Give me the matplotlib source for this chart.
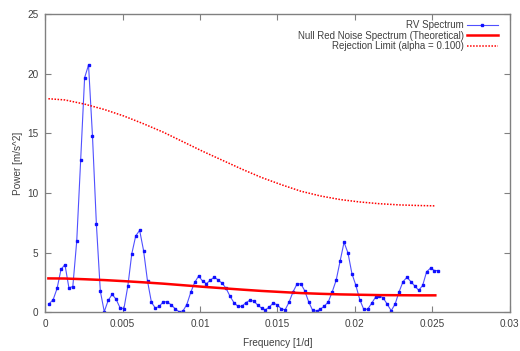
import numpy as np
import matplotlib
matplotlib.use("Agg")
import matplotlib.pyplot as plt

# RV spectrum: one value per frequency bin k = 1..100
df = 0.000254
rv_power = [
    0.72, 1.06, 2.0, 3.6, 4.0, 2.06, 2.15, 5.98, 12.77, 19.66,
    20.73, 14.8, 7.37, 1.78, 0.05, 1.0, 1.5, 1.1, 0.39, 0.3,
    2.2, 4.9, 6.4, 6.87, 5.17, 2.62, 0.84, 0.35, 0.5, 0.88,
    0.88, 0.63, 0.31, 0.05, 0.1, 0.65, 1.67, 2.5, 3.04, 2.62,
    2.4, 2.7, 2.95, 2.7, 2.43, 2.0, 1.34, 0.8, 0.5, 0.5,
    0.8, 1.0, 0.95, 0.62, 0.35, 0.2, 0.45, 0.78, 0.62, 0.3,
    0.2, 0.84, 1.7, 2.35, 2.4, 1.8, 0.88, 0.16, 0.1, 0.27,
    0.52, 0.88, 1.72, 2.7, 4.3, 5.87, 4.97, 3.24, 2.26, 1.06,
    0.25, 0.25, 0.75, 1.26, 1.4, 1.18, 0.67, 0.13, 0.7, 1.72,
    2.57, 2.93, 2.57, 2.2, 1.84, 2.26, 3.4, 3.7, 3.5, 3.5,
]
rv_freq = df * np.arange(1, len(rv_power) + 1)

# theoretical curves, sampled along the frequency axis
curve_freq = [0.0002, 0.00127, 0.00254, 0.00381, 0.00508, 0.00635, 0.00762,
              0.00889, 0.01016, 0.01143, 0.0127, 0.01397, 0.01524, 0.01651,
              0.01778, 0.01905, 0.0203, 0.0216, 0.0229, 0.0241, 0.0252]
null_power = [2.84, 2.83, 2.77, 2.70, 2.61, 2.51, 2.40, 2.27, 2.14, 2.02,
              1.90, 1.79, 1.70, 1.61, 1.55, 1.50, 1.47, 1.44, 1.43, 1.42, 1.42]
reject_power = [17.9, 17.8, 17.45, 17.0, 16.45, 15.8, 15.1, 14.3, 13.5, 12.75,
                12.0, 11.3, 10.7, 10.15, 9.75, 9.45, 9.25, 9.1, 9.0, 8.95, 8.92]

x_ticks = [0, 0.005, 0.01, 0.015, 0.02, 0.025, 0.03]
x_tick_labels = ["0", "0.005", "0.01", "0.015", "0.02", "0.025", "0.03"]
y_ticks = [0, 5, 10, 15, 20, 25]

plt.rcParams["font.family"] = ["Liberation Sans", "DejaVu Sans"]
text_color = "#404040"
frame_color = "#808080"

fig = plt.figure(figsize=(5.2, 3.51), dpi=100)
ax = fig.add_axes([0.0871, 0.1103, 0.8929, 0.8497])

ax.plot(rv_freq, rv_power, color="#5050ff", lw=0.8, marker="s", ms=1.5,
        mfc="#1010ff", mec="#1010ff", label="RV Spectrum")
ax.plot(curve_freq, null_power, color="#ff0000", lw=1.8,
        label="Null Red Noise Spectrum (Theoretical)")
ax.plot(curve_freq, reject_power, color="#ff0000", lw=1.1, ls=(0, (1, 1)),
        label="Rejection Limit (alpha = 0.100)")

ax.set_xlim(0, 0.03)
ax.set_ylim(0, 25)
ax.set_xticks(x_ticks)
ax.set_xticklabels(x_tick_labels)
ax.set_yticks(y_ticks)
ax.tick_params(direction="in", length=4, width=0.8, color=frame_color,
               labelcolor=text_color, labelsize=7.2, top=True, right=True, pad=5)
for spine in ax.spines.values():
    spine.set_color(frame_color)
    spine.set_linewidth(1.0)

ax.set_xlabel("Frequency [1/d]", fontsize=7.2, color=text_color, labelpad=6)
ax.set_ylabel("Power [m/s^2]", fontsize=7.2, color=text_color, labelpad=3)

ax.legend(loc="upper right", markerfirst=False, frameon=False, fontsize=7.0,
          handlelength=3.2, handletextpad=0.3, labelspacing=0.05,
          borderaxespad=0.1, labelcolor=text_color,
          bbox_to_anchor=(0.985, 0.995))

fig.savefig("out.png", dpi=100)
